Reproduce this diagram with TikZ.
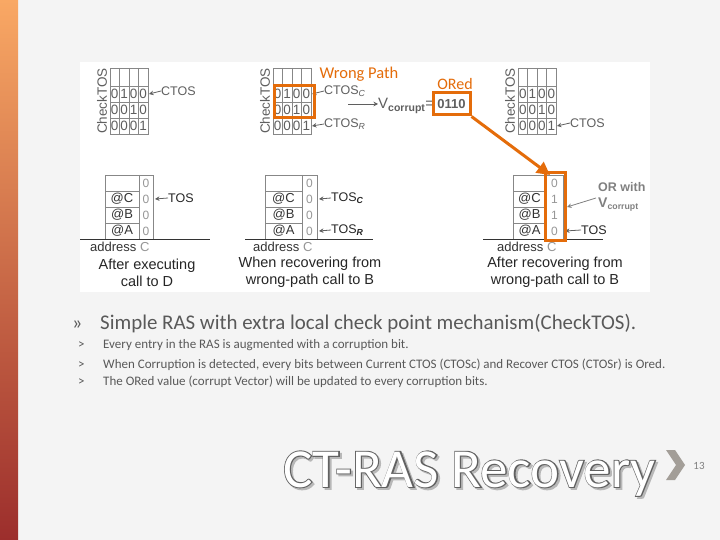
\documentclass[tikz,border=0pt]{standalone}
\usepackage{fontspec}
\setmainfont{Liberation Sans}
\newfontfamily\slidefont{Carlito}
\newfontfamily\titleoutline[FakeBold=3.5]{Carlito}
\usetikzlibrary{arrows.meta}
\definecolor{orng}{RGB}{228,108,10}
\definecolor{gline}{RGB}{135,135,135}
\definecolor{gtext}{RGB}{95,95,95}
\definecolor{lbit}{RGB}{150,150,150}
\definecolor{stext}{RGB}{89,89,89}
\definecolor{bgc}{RGB}{244,244,244}
\definecolor{chev}{RGB}{163,158,152}
\tikzset{
  gridl/.style={draw=gline, line width=0.7pt},
  lab/.style={font=\fontsize{12.5}{14}\selectfont, text=gtext, inner sep=0pt},
  dig/.style={font=\fontsize{13.5}{14}\selectfont, text=gtext, inner sep=0pt},
  bit/.style={font=\fontsize{12}{14}\selectfont, text=lbit, inner sep=0pt},
  addr/.style={font=\fontsize{13}{14}\selectfont, text=black!80, inner sep=0pt},
  ptr/.style={-{Stealth[length=4.5pt,width=4.5pt]}, draw=gtext, line width=0.8pt},
  obox/.style={draw=orng, line width=3pt},
  capt/.style={font=\fontsize{14.5}{17}\selectfont, align=center, text=black!85, inner sep=0pt},
  basel/.style={draw=black!80, line width=1pt},
  sub/.style={anchor=base west, font=\slidefont\fontsize{13}{15}\selectfont, text=stext, inner sep=0pt},
  ttl/.style={anchor=base west, inner sep=0pt}
}
\newcommand\cktable[2]{%
  \draw[gridl] (#1,68) rectangle (#1+38,134);
  \foreach \yy in {86,102,118} \draw[gridl] (#1,\yy) -- (#1+38,\yy);
  \foreach \xx in {9.5,19,28.5} \draw[gridl] (#1+\xx,68) -- (#1+\xx,134);
  \foreach \d [count=\k from 0] in {0,1,0,0} \node[dig] (#2a\k) at (#1+4.75+9.5*\k,94) {\d};
  \foreach \d [count=\k from 0] in {0,0,1,0} \node[dig] (#2b\k) at (#1+4.75+9.5*\k,110) {\d};
  \foreach \d [count=\k from 0] in {0,0,0,1} \node[dig] (#2c\k) at (#1+4.75+9.5*\k,126) {\d};
  \node[lab, rotate=90, font=\fontsize{13.5}{14}\selectfont] (#2lbl) at (#1-8,101) {CheckTOS};
  \coordinate (#2r1) at (#1+39,94);
  \coordinate (#2r3) at (#1+39,126);
}
\newcommand\rastable[7]{%
  \draw[gridl] (#1,175) -- (#3,175) -- (#3,239);
  \draw[gridl] (#1,175) -- (#1,239);
  \draw[gridl] (#2,175) -- (#2,239);
  \foreach \yy in {191,207,223} \draw[gridl] (#1,\yy) -- (#2,\yy);
  \node[addr] (#4c) at ({(#1+#2)/2},199) {@C};
  \node[addr] (#4b) at ({(#1+#2)/2},215) {@B};
  \node[addr] (#4a) at ({(#1+#2)/2},231) {@A};
  \node[bit] (#4x0) at ({(#2+#3)/2},183) {0};
  \node[bit] (#4x1) at ({(#2+#3)/2},199) {#5};
  \node[bit] (#4x2) at ({(#2+#3)/2},215) {#6};
  \node[bit] (#4x3) at ({(#2+#3)/2},231) {#7};
  \coordinate (#4p1) at (#3+2,199);
  \coordinate (#4p3) at (#3+2,231);
}
\begin{document}
\begin{tikzpicture}[x=1pt,y=-1pt]
\useasboundingbox (0,0) rectangle (720,540);
\fill[bgc] (0,0) rectangle (720,540);
\shade[top color={rgb,255:red,249;green,168;blue,100}, middle color={rgb,255:red,242;green,120;blue,15}, bottom color={rgb,255:red,156;green,46;blue,44}] (0,0) rectangle (18,540);
\fill[white] (80,62) rectangle (650,292);

% ---- check TOS tables
\cktable{110}{ta}
\cktable{273}{tb}
\cktable{518}{tc}

\node[lab, anchor=west] (ctos1) at (161,91) {CTOS};
\draw[ptr] (ctos1.west) -- (tar1);

\node[lab, anchor=west] (ctosc) at (324,91) {CTOS\textsubscript{\textit{C}}};
\node[lab, anchor=west] (ctosr) at (324,124) {CTOS\textsubscript{\textit{R}}};
\draw[ptr] (ctosc.west) -- (tbr1);
\draw[ptr] (ctosr.west) -- (tbr3);
\draw[obox] (274,86) rectangle (314,118);
\node[anchor=center, font=\slidefont\fontsize{16.5}{18}\selectfont, text=orng, inner sep=0pt] (wp) at (359,74) {Wrong Path};
\coordinate (vfrom) at (348,104);
\node[lab, anchor=west, font=\fontsize{15}{16}\selectfont] (vc) at (378,106) {V\textsubscript{\textbf{corrupt}}=};
\draw[ptr] (vfrom) -- (vc.west |- vfrom);
\node[obox, minimum width=37pt, minimum height=22pt, inner sep=0pt, font=\bfseries\fontsize{13}{14}\selectfont, text=gtext] (vbox) at (451.5,104) {0110};
\node[font=\slidefont\fontsize{16}{18}\selectfont, text=orng, inner sep=0pt] (ored) at (455,84) {ORed};

\node[lab, anchor=west] (ctos3) at (570,123) {CTOS};
\draw[ptr] (ctos3.west) -- (tcr3);

% ---- RAS tables
\rastable{105}{139}{153}{ra}{0}{0}{0}
\rastable{265}{302}{317}{rb}{0}{0}{0}
\rastable{513}{546}{563}{rc}{1}{1}{0}

\draw[basel] (80,239) -- (210,239);
\draw[basel] (245,239) -- (373,239);
\draw[basel] (483,239) -- (603,239);

\node[lab, anchor=west, text=black!85] (tosa) at (168,198) {TOS};
\draw[ptr] (tosa.west) -- (rap1);
\node[lab, anchor=west, text=black!85] (tosbc) at (331,198) {TOS\textsubscript{\textbf{\textit{C}}}};
\node[lab, anchor=west, text=black!85] (tosbr) at (331,230) {TOS\textsubscript{\textbf{\textit{R}}}};
\draw[ptr] (tosbc.west) -- (rbp1);
\draw[ptr] (tosbr.west) -- (rbp3);
\node[lab, anchor=west, text=black!85] (tosc) at (581,230) {TOS};
\draw[ptr] (tosc.west) -- (rcp3);

\draw[obox] (545,173) rectangle (565,240);
\coordinate (coltop) at (550,175);
\draw[orng, line width=3pt, -{Triangle[length=13pt,width=13pt]}] (vbox.south east) -- (coltop);

\node[lab, anchor=west, align=left, font=\bfseries\fontsize{12.5}{16}\selectfont, text=gray] (orw) at (598,197) {OR with\\{\fontsize{14}{16}\selectfont V}\textsubscript{corrupt}};
\coordinate (orwa) at (596,198);
\draw[ptr, draw=gray] (orwa) -- (567,207);

\node[addr, anchor=west] (ad1) at (90,247) {address \textcolor{lbit}{C}};
\node[addr, anchor=west] (ad2) at (253,247) {address \textcolor{lbit}{C}};
\node[addr, anchor=west] (ad3) at (497,247) {address \textcolor{lbit}{C}};

\node[capt] (cap1) at (147,272.5) {After executing\\call to D};
\node[capt] (cap2) at (310,272.5) {When recovering from\\wrong-path call to B};
\node[capt] (cap3) at (555,272.5) {After recovering from\\wrong-path call to B};

% ---- slide text
\node[anchor=base west, font=\slidefont\fontsize{20}{24}\selectfont, text=stext, inner sep=0pt] (bul) at (72,329) {»};
\node[anchor=base west, font=\slidefont\fontsize{20.9}{24}\selectfont, text=stext, inner sep=0pt] (main) at (100,329) {Simple RAS with extra local check point mechanism(CheckTOS).};
\node[sub] (s1m) at (78,348) {>};
\node[sub] (s1) at (103,348) {Every entry in the RAS is augmented with a corruption bit.};
\node[sub] (s2m) at (78,368) {>};
\node[sub] (s2) at (103,368) {When Corruption is detected, every bits between Current CTOS (CTOSc) and Recover CTOS (CTOSr) is Ored.};
\node[sub] (s3m) at (78,385) {>};
\node[sub] (s3) at (103,385) {The ORed value (corrupt Vector) will be updated to every corruption bits.};

% ---- title (outlined)
\node[ttl, font=\titleoutline\fontsize{55}{60}\selectfont, text=black!28] (tsh) at (285,489) {CT-RAS Recovery};
\node[ttl, font=\titleoutline\fontsize{55}{60}\selectfont, text=black!62] (tol) at (283,487) {CT-RAS Recovery};
\node[ttl, font=\slidefont\fontsize{55}{60}\selectfont, text=white] (title) at (283,487) {CT-RAS Recovery};
\fill[chev] (666,450) -- (675,450) -- (685,465) -- (675,480) -- (666,480) -- (676,465) -- cycle;
\node[font=\slidefont\fontsize{11}{12}\selectfont, text=gray, inner sep=0pt] (pg) at (699,466) {13};
\end{tikzpicture}
\end{document}
